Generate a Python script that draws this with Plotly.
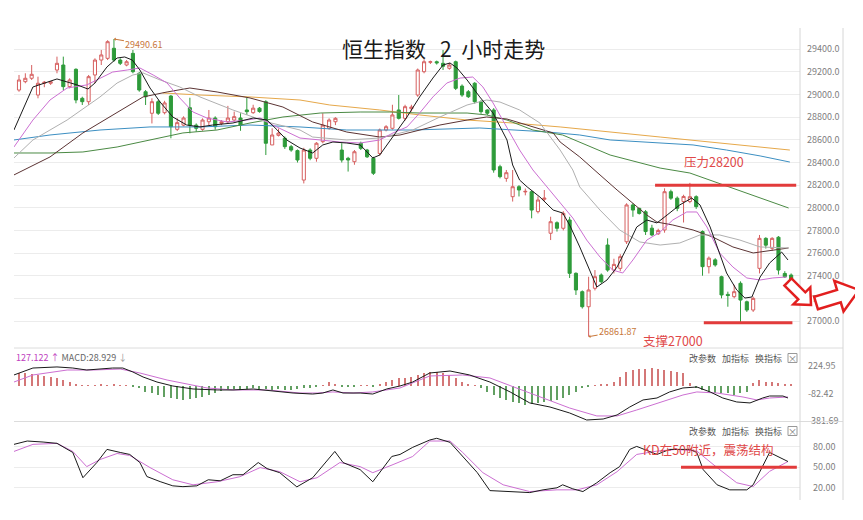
import math
import plotly.graph_objects as go

# ---------------- data ----------------
opens = [29040,29114,29144,28996,29100,29100,29217,29261,29070,29223,
28967,28937,29173,29305,29320,29409,29305,29261,29364,29188,
29025,28835,28937,28840,28987,28693,28730,28884,28730,28693,
28760,28793,28745,28760,28775,28793,28864,28840,28880,28937,
28555,28640,28614,28540,28505,28245,28510,28437,28584,28702,
28760,28510,28437,28407,28570,28510,28437,28480,28687,28702,
28864,28790,28875,28996,29202,29285,29290,29276,29232,29290,
29075,29025,29100,28937,28864,28864,28363,28260,28098,28186,
28140,28142,27966,28075,27775,27868,27819,27892,27421,27259,
27126,27289,27406,27671,27450,27465,27700,28025,27995,27965,
27820,27770,27804,28142,28085,28055,28055,28098,27790,27480,
27540,27391,27235,27215,27333,27170,27097,27465,27730,27642,
27740,27420,27406]
highs = [29173,29188,29261,29158,29120,29120,29335,29335,29144,29232,
28981,29173,29320,29394,29480,29490.61,29320,29305,29394,29200,
29040,28967,28952,28945,28996,28790,28808,28972,28745,28790,
28864,28808,28775,28900,28850,28835,28972,28910,28890,28950,
28702,28700,28630,28555,28515,28530,28525,28580,28835,28790,
28800,28570,28450,28510,28584,28520,28450,28700,28730,28910,
28996,28910,28910,29230,29310,29300,29300,29394,29280,29300,
29090,29040,29110,28950,28870,28880,28380,28334,28334,28200,
28170,28150,28100,28157,27921,27880,27970,27920,27430,27270,
27391,27450,27420,27730,27550,27590,28040,28040,28000,27980,
27850,27815,28172,28160,28100,28115,28220,28110,27800,27570,
27555,27400,27259,27320,27350,27180,27215,27760,27740,27740,
27750,27440,27420]
lows = [29025,29100,29129,28967,29065,29085,29188,29040,29055,28923,
28908,28908,29100,29261,29305,29290,29261,29250,29188,29025,
28908,28745,28820,28825,28614,28678,28720,28658,28672,28680,
28730,28690,28730,28745,28760,28680,28820,28830,28840,28466,
28555,28630,28520,28495,28400,28215,28420,28407,28570,28690,
28730,28400,28320,28380,28510,28440,28290,28460,28675,28690,
28780,28770,28850,28980,29188,29270,29265,29217,29220,29040,
28980,28970,28920,28830,28820,28310,28260,28230,28055,28100,
28110,27907,27950,28060,27715,27790,27800,27380,27230,27110,
26861.87,27270,27330,27435,27420,27440,27680,27920,27940,27760,
27750,27760,27780,28070,27970,27870,28040,27990,27400,27420,
27480,27200,27126,27200,26990,27080,27080,27420,27640,27620,
27410,27380,27340]
closes = [29129,29144,29179,29100,29108,29114,29276,29070,29129,28952,
28937,29158,29305,29350,29467,29305,29276,29290,29202,29040,
28981,28937,28835,28926,28716,28752,28793,28730,28702,28775,
28793,28716,28760,28793,28805,28730,28849,28880,28850,28570,
28643,28660,28540,28510,28422,28510,28437,28570,28730,28775,
28790,28422,28422,28495,28525,28450,28305,28687,28716,28820,
28790,28893,28890,29217,29290,29290,29280,29250,29261,29055,
28996,28981,28937,28849,28835,28334,28275,28310,28186,28157,
28145,27980,28069,28085,27877,27819,27951,27421,27274,27126,
27274,27391,27347,27450,27500,27568,28025,27980,27950,27790,
27760,27800,28142,28085,27995,28100,28098,28010,27480,27555,
27495,27230,27225,27259,27185,27097,27200,27730,27670,27730,
27450,27390,27362]
bar_idx = list(range(len(closes)))

ma5_x = [-0.8,2.2,6.0,7.6,9.2,10.9,12.0,13.9,15.5,16.7,17.9,19.1,20.7,22.3,24.3,26.5,28.6,30.6,33.8,37.0,39.2,40.8,42.3,44.4,46.4,48.0,49.6,51.8,53.9,55.0,55.9,57.0,59.1,61.3,63.3,65.4,67.0,68.1,69.2,70.8,72.8,74.9,77.1,78.0,79.1,80.3,82.3,84.4,85.9,87.0,88.6,90.2,91.3,92.9,94.5,96.1,97.6,99.2,100.8,102.4,104.4,106.3,107.6,109.2,110.7,111.8,113.4,114.7,115.8,117.1,118.6,120.5,121.5]
ma5_y = [28687,29067,29138,29111,29085,29049,29102,29244,29323,29332,29305,29217,29058,28934,28802,28731,28714,28731,28749,28793,28775,28687,28599,28528,28484,28555,28581,28572,28555,28493,28440,28466,28625,28802,28979,29146,29261,29279,29235,29129,28979,28837,28599,28378,28245,28184,28095,27980,27954,27848,27654,27450,27300,27362,27477,27654,27830,27892,27866,27936,28025,28086,28025,27830,27601,27424,27274,27203,27212,27389,27512,27609,27539]

ma10_x = [-0.8,2.2,4.9,7.6,10.7,12.8,14.8,17.1,19.1,21.2,23.4,25.4,27.5,29.7,32.9,36.0,38.1,40.1,42.8,44.4,47.6,50.7,53.9,57.0,59.1,61.3,63.3,65.4,67.6,69.7,71.7,73.3,74.9,77.1,79.1,81.2,83.4,85.5,87.5,89.7,91.8,93.8,95.4,97.0,99.2,101.3,103.3,105.5,107.1,108.7,110.7,112.8,115.0,117.1,119.1,121.3]
ma10_y = [28537,28775,28952,29058,29085,29146,29199,29217,29235,29173,29102,28970,28846,28793,28758,28775,28793,28731,28661,28616,28599,28581,28572,28599,28661,28714,28837,28979,29102,29146,29155,29067,28926,28714,28510,28334,28184,28051,27910,27715,27565,27450,27424,27539,27715,27786,27892,27963,27963,27830,27601,27477,27380,27362,27380,27389]

ma20_x = [-0.8,2.2,7.6,12.8,15.5,18.0,19.6,22.3,25.4,28.6,33.8,39.2,44.4,46.4,51.8,57.0,62.2,66.5,70.8,73.9,76.0,79.1,82.3,85.5,87.5,88.6,91.8,94.9,98.1,101.3,104.4,107.6,110.7,113.9,117.1,121.5]
ma20_y = [28440,28599,28775,28979,29102,29173,29191,29129,29067,28979,28864,28758,28687,28625,28599,28616,28687,28802,28908,28952,28934,28864,28749,28510,28334,28184,27980,27804,27698,27671,27689,27760,27760,27715,27654,27645]

ma30_x = [-0.8,4.9,10.1,15.5,19.6,23.4,27.0,31.3,36.5,41.7,46.4,51.8,57.0,60.2,63.3,66.5,70.8,73.9,77.1,80.3,84.4,85.5,88.6,91.8,94.5,99.2,100.8,103.3,106.5,109.6,112.8,116.0,118.2,121.6]
ma30_y = [28290,28449,28661,28846,28979,29023,29058,29023,28970,28890,28758,28669,28625,28643,28687,28731,28775,28802,28784,28731,28661,28581,28449,28290,28157,27936,27874,27848,27804,27742,27654,27601,27618,27645]

ma60_x = [-0.8,4.9,10.1,15.5,20.7,25.9,31.3,36.5,41.7,47.6,53.9,58.6,63.3,70.8,73.9,77.1,81.2,85.9,93.4,101.3,106.0,111.8,117.1,121.6]
ma60_y = [28484,28484,28493,28537,28599,28661,28687,28749,28802,28837,28846,28846,28837,28837,28820,28775,28687,28643,28466,28351,28307,28192,28086,27998]

ma120_x = [-0.8,4.9,12.8,20.7,28.6,36.5,44.4,51.8,62.2,72.8,83.4,88.6,93.4,98.6,106.5,111.8,117.1,121.8]
ma120_y = [28599,28643,28687,28714,28714,28731,28714,28687,28687,28705,28670,28643,28599,28581,28555,28510,28458,28404]

ma250_x = [22.7,28.6,36.5,44.4,49.1,57.0,63.3,70.8,78.0,85.5,101.3,121.8]
ma250_y = [29014,28996,28979,28952,28908,28864,28820,28775,28749,28714,28625,28510]

macd_hist = [141,141,130,122,114,103,92,66,48,22,
11,5,11,17,11,22,11,5,-6,-25,
-63,-81,-100,-119,-136,-147,-155,-144,-130,-119,
-100,-81,-55,-44,-33,-39,-33,-22,-28,-33,
-44,-33,-39,-44,-33,-22,-22,-11,11,44,
22,-11,-11,-6,4,6,-6,22,48,66,
85,92,103,122,141,158,158,141,122,85,
48,22,11,-17,-63,-100,-136,-155,-174,-192,
-211,-203,-192,-174,-166,-155,-136,-100,-63,-25,
-8,11,15,25,48,103,158,177,188,188,
196,188,177,166,158,141,33,-25,-44,-63,
-81,-81,-81,-100,-81,-63,30,66,48,48,
30,22,15]

dif_x = [-0.8,2.2,6.0,8.5,10.7,12.8,14.8,16.4,18.0,19.6,21.8,24.3,27.5,31.3,33.8,37.0,40.1,43.3,46.4,48.0,49.6,51.2,53.9,55.9,58.1,60.2,62.2,64.9,68.1,71.2,74.4,77.6,80.7,83.9,87.0,89.7,92.3,94.5,96.5,98.6,100.8,102.8,104.9,107.1,109.2,111.2,113.4,115.5,117.5,118.6,120.7,121.5]
dif_y = [122,199,211,199,177,188,199,199,155,100,44,0,-33,-44,-44,-33,-55,-78,-89,-78,-44,-78,-78,-89,-33,0,44,144,166,122,44,-66,-188,-233,-299,-377,-366,-321,-233,-155,-133,-66,-22,-11,-66,-133,-177,-188,-133,-111,-111,-133]
dea_x = [-0.8,2.2,7.6,11.7,16.0,19.1,23.4,26.5,29.7,33.8,39.2,44.4,47.1,49.6,52.8,55.9,60.2,64.9,70.1,74.4,78.7,82.8,87.0,91.3,94.5,97.6,101.7,104.9,107.1,110.3,114.4,116.6,118.6,121.5]
dea_y = [44,122,177,177,188,144,66,22,-22,-44,-44,-78,-78,-66,-78,-66,-22,111,122,89,-22,-133,-244,-332,-332,-266,-177,-100,-66,-78,-122,-155,-133,-122]

k_x = [-0.8,1.3,3.8,6.0,8.5,10.1,12.3,13.9,16.0,17.5,19.1,20.2,22.3,24.3,25.9,28.1,29.9,31.8,33.8,35.4,37.8,39.2,41.2,43.9,46.4,49.9,51.2,53.9,55.9,58.9,60.2,62.2,64.9,66.0,68.1,70.1,72.4,74.4,77.6,80.7,82.8,85.0,85.9,87.5,89.1,91.3,93.4,94.9,96.5,97.6,100.8,102.8,106.0,107.1,108.1,110.3,112.3,115.0,116.0,117.5,118.6,121.5]
k_y = [83.7,88.6,87.1,85.2,71.8,34.7,57.0,76.3,71.8,68.9,57.0,36.5,29.0,22.8,21.6,22.8,31.7,30.2,39.1,39.1,57.0,48.1,42.1,21.3,34.7,73.3,57.0,46.6,28.8,65.9,68.9,79.3,90.1,92.6,86.7,65.9,42.3,15.8,14.4,12.9,16.9,19.9,24.3,18.4,14.4,27.3,42.1,51.0,76.3,80.7,68.9,76.3,76.3,71.8,46.6,24.3,16.9,16.9,24.3,51.0,71.8,58.5]
d_x = [-0.8,2.2,6.0,8.5,10.7,12.8,15.5,17.5,20.7,24.3,27.5,31.3,34.9,38.1,41.2,44.4,47.1,50.7,53.9,55.9,59.1,62.2,64.9,68.1,70.1,73.3,76.5,80.7,85.0,88.2,91.3,94.5,97.6,100.8,103.9,107.1,110.3,113.4,116.0,118.6,121.5]
d_y = [73.3,83.7,85.2,73.3,51.0,61.4,70.3,67.4,49.6,31.7,24.3,28.8,36.2,49.6,43.6,28.8,34.7,57.0,51.0,42.1,54.0,65.9,88.6,88.6,71.8,42.1,24.3,14.4,16.9,16.9,24.3,43.6,68.9,73.8,76.3,73.8,49.6,27.3,21.8,44.1,58.5]

price_ticks = [27000,27200,27400,27600,27800,28000,28200,28400,28600,28800,29000,29200,29400]
macd_ticks = [224.95,-82.42,-381.69]
kd_ticks = [20,50,80]

# ---------------- geometry ----------------
# the page body has an 8px margin, so the figure is drawn 8px smaller and
# positions below are given in page pixels then shifted by OFF.
OFF = 8
W, H = 855, 512
ML, MR, MT, MB = 6, 63, 20, 20
PW, PH = W - ML - MR, H - MT - MB


def px(x):
    return (x - OFF - ML) / PW


def py(y):
    return (H - MB - (y - OFF)) / PH


RED = "#d65f5f"
GREEN = "#2e9b3a"
GRID = "#ececec"
FONT = "Noto Sans CJK SC"

fig = go.Figure()
fig.add_trace(go.Candlestick(
    x=bar_idx, open=opens, high=highs, low=lows, close=closes,
    increasing=dict(line=dict(color=RED, width=1), fillcolor="white"),
    decreasing=dict(line=dict(color=GREEN, width=1), fillcolor=GREEN),
    whiskerwidth=0, xaxis="x", yaxis="y", hoverinfo="skip", showlegend=False))

ma_specs = [
    (ma250_x, ma250_y, "#e6a84a"),
    (ma120_x, ma120_y, "#3c8fc2"),
    (ma60_x, ma60_y, "#4b8a44"),
    (ma30_x, ma30_y, "#5b3333"),
    (ma20_x, ma20_y, "#b0b0b0"),
    (ma10_x, ma10_y, "#cc6fd2"),
    (ma5_x, ma5_y, "#1a1a1a"),
]
for xs, ys, c in ma_specs:
    fig.add_trace(go.Scatter(x=xs, y=ys, mode="lines", line=dict(color=c, width=1),
                             xaxis="x", yaxis="y", hoverinfo="skip", showlegend=False))

fig.add_trace(go.Bar(x=bar_idx, y=macd_hist, width=0.2,
                     marker=dict(color=["#d47777" if v >= 0 else "#62a062" for v in macd_hist],
                                 line=dict(width=0)),
                     xaxis="x2", yaxis="y2", hoverinfo="skip", showlegend=False))
fig.add_trace(go.Scatter(x=dea_x, y=dea_y, mode="lines", line=dict(color="#cc6fd2", width=1),
                         xaxis="x2", yaxis="y2", hoverinfo="skip", showlegend=False))
fig.add_trace(go.Scatter(x=dif_x, y=dif_y, mode="lines", line=dict(color="#1a1a1a", width=1),
                         xaxis="x2", yaxis="y2", hoverinfo="skip", showlegend=False))

fig.add_trace(go.Scatter(x=d_x, y=d_y, mode="lines", line=dict(color="#cc6fd2", width=1),
                         xaxis="x3", yaxis="y3", hoverinfo="skip", showlegend=False))
fig.add_trace(go.Scatter(x=k_x, y=k_y, mode="lines", line=dict(color="#1a1a1a", width=1),
                         xaxis="x3", yaxis="y3", hoverinfo="skip", showlegend=False))

xr = [-0.79, 123.4]
tickfont = dict(family=FONT, size=9, color="#808080")
common_x = dict(range=xr, showticklabels=False, showgrid=False, zeroline=False,
                showline=False, ticks="", fixedrange=True)
d_main = [py(348), 1.0]
d_macd = [py(421), py(348)]
d_kd = [0.0, py(421)]

fig.update_layout(
    width=W, height=H, margin=dict(l=ML, r=MR, t=MT, b=MB),
    paper_bgcolor="white", plot_bgcolor="white",
    font=dict(family=FONT), showlegend=False, bargap=0,
    xaxis=dict(domain=[0, 1], anchor="y", rangeslider=dict(visible=False), **common_x),
    xaxis2=dict(domain=[0, 1], anchor="y2", **common_x),
    xaxis3=dict(domain=[0, 1], anchor="y3", **common_x),
    yaxis=dict(domain=d_main, anchor="x", side="right", range=[26761.5, 29588],
               tickvals=price_ticks, tickformat=".1f", showgrid=True, gridcolor=GRID,
               zeroline=False, ticks="", tickfont=tickfont, ticklabelstandoff=6, fixedrange=True),
    yaxis2=dict(domain=d_macd, anchor="x2", side="right", range=[-388, 421],
                tickvals=macd_ticks, ticktext=["224.95", "-82.42", "-381.69"],
                showgrid=False, zeroline=False, ticks="", tickfont=tickfont,
                ticklabelstandoff=7, fixedrange=True),
    yaxis3=dict(domain=d_kd, anchor="x3", side="right", range=[2, 118],
                tickvals=kd_ticks, tickformat=".2f", showgrid=True, gridcolor=GRID,
                zeroline=False, ticks="", tickfont=tickfont, ticklabelstandoff=12, fixedrange=True),
)

shapes = []
# frame lines
for yy in (348, 421.5):
    shapes.append(dict(type="line", xref="paper", yref="paper", x0=px(14), x1=px(843),
                       y0=py(yy), y1=py(yy), line=dict(color="#dcdcdc", width=1)))
for xx in (800, 843):
    shapes.append(dict(type="line", xref="paper", yref="paper", x0=px(xx), x1=px(xx),
                       y0=py(28), y1=py(500), line=dict(color="#d6d6d6", width=1)))
# red level lines
shapes.append(dict(type="line", xref="x", yref="y", x0=100.5, x1=122.8, y0=28200, y1=28200,
                   line=dict(color="#e23b3b", width=3)))
shapes.append(dict(type="line", xref="x", yref="y", x0=108.2, x1=122.2, y0=26985, y1=26985,
                   line=dict(color="#e23b3b", width=3)))
shapes.append(dict(type="line", xref="x3", yref="y3", x0=104.6, x1=122.9, y0=50, y1=50,
                   line=dict(color="#e23b3b", width=3)))


def arrow_path(tx, ty, qx, qy, w, wh, hl):
    dx, dy = qx - tx, qy - ty
    L = math.hypot(dx, dy)
    ux, uy = dx / L, dy / L
    nx, ny = -uy, ux
    bx, by = qx - ux * hl, qy - uy * hl
    pts = [(tx + nx * w, ty + ny * w), (bx + nx * w, by + ny * w), (bx + nx * wh, by + ny * wh),
           (qx, qy), (bx - nx * wh, by - ny * wh), (bx - nx * w, by - ny * w),
           (tx - nx * w, ty - ny * w)]
    return "M " + " L ".join(f"{px(a):.5f},{py(b):.5f}" for a, b in pts) + " Z"


shapes.append(dict(type="path", xref="paper", yref="paper",
                   path=arrow_path(788, 282, 811, 305, 5, 12, 13),
                   line=dict(color="#e21f1f", width=2.5), fillcolor="white"))
shapes.append(dict(type="path", xref="paper", yref="paper",
                   path=arrow_path(816, 303, 859, 290, 6.5, 16, 21),
                   line=dict(color="#e21f1f", width=2.5), fillcolor="white"))
# close boxes
for yy in (358, 431):
    shapes.append(dict(type="rect", xref="paper", yref="paper", x0=px(788), x1=px(797),
                       y0=py(yy + 4.5), y1=py(yy - 4.5), line=dict(color="#999", width=1)))
fig.update_layout(shapes=shapes)

ann = []
ann.append(dict(xref="paper", yref="paper", x=px(444), y=py(48),
                text="恒生指数\u00a0\u00a0\u00a02\u00a0\u00a0小时走势",
                showarrow=False, font=dict(family=FONT, size=21, color="#1a1a1a"),
                xanchor="center", yanchor="middle"))
ann.append(dict(xref="x", yref="y", x=15, y=29490.61, text="29490.61", showarrow=True,
                ax=30, ay=5, arrowhead=1, arrowsize=0.6, arrowwidth=1, arrowcolor="#c8773a",
                font=dict(family=FONT, size=9, color="#c8773a")))
ann.append(dict(xref="x", yref="y", x=90, y=26861.87, text="26861.87", showarrow=True,
                ax=29, ay=-5, arrowhead=1, arrowsize=0.6, arrowwidth=1, arrowcolor="#c8773a",
                font=dict(family=FONT, size=9, color="#c8773a")))
red_font = dict(family=FONT, size=12.5, color="#e04848")
ann.append(dict(xref="paper", yref="paper", x=px(714), y=py(161), text="压力28200",
                showarrow=False, font=red_font, xanchor="center", yanchor="middle"))
ann.append(dict(xref="paper", yref="paper", x=px(673), y=py(340), text="支撑27000",
                showarrow=False, font=red_font, xanchor="center", yanchor="middle"))
ann.append(dict(xref="paper", yref="paper", x=px(708), y=py(449), text="KD在50附近，震荡结构",
                showarrow=False, font=red_font, xanchor="center", yanchor="middle"))
ann.append(dict(xref="paper", yref="paper", x=px(14), y=py(357),
                text='<span style="color:#c040c0">127.122 ↑</span> '
                     '<span style="color:#666">MACD:28.929</span> '
                     '<span style="color:#999">↓</span>',
                showarrow=False, font=dict(family=FONT, size=9), xanchor="left", yanchor="middle"))
for yy in (358, 431):
    for xx, t in ((687, "改参数"), (720, "加指标"), (753, "换指标")):
        ann.append(dict(xref="paper", yref="paper", x=px(xx), y=py(yy), text=t,
                        showarrow=False, font=dict(family=FONT, size=9, color="#555"),
                        xanchor="left", yanchor="middle"))
    ann.append(dict(xref="paper", yref="paper", x=px(792.5), y=py(yy), text="×",
                    showarrow=False, font=dict(family=FONT, size=9, color="#777"),
                    xanchor="center", yanchor="middle"))
fig.update_layout(annotations=ann)

fig.write_html("out.html")
